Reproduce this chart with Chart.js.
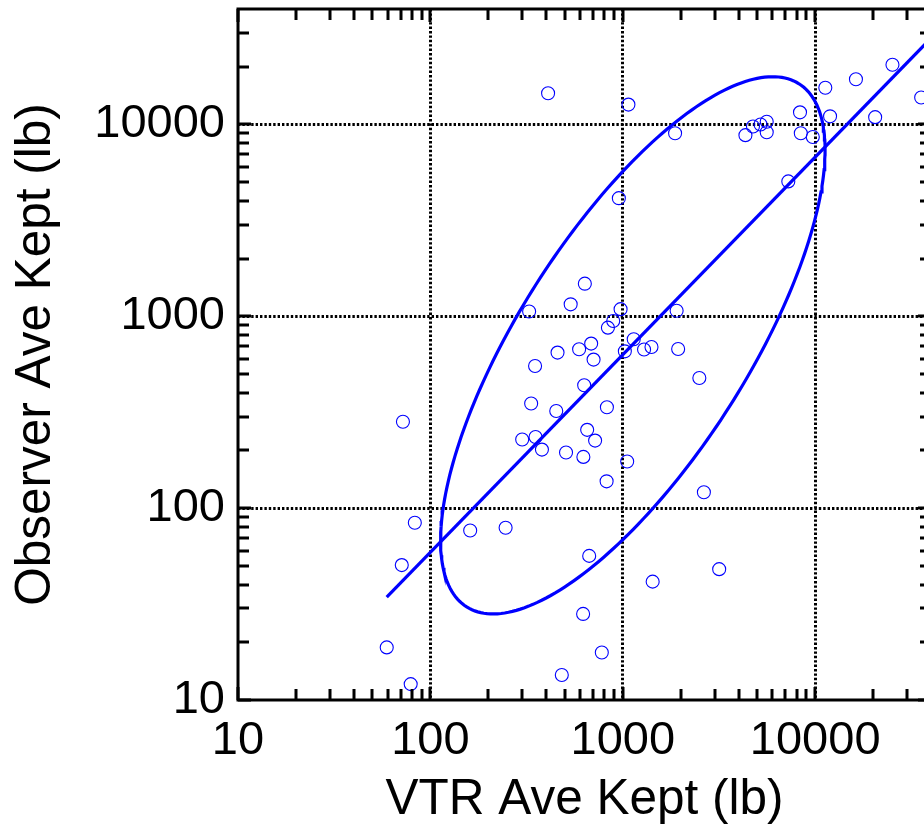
<!DOCTYPE html>
<html>
<head>
<meta charset="utf-8">
<script src="https://cdn.jsdelivr.net/npm/chart.js@4/dist/chart.umd.min.js"></script>
<style>
  html, body { margin: 0; padding: 0; background: #fff; overflow: hidden; }
  #wrap { position: relative; width: 940px; height: 831px; }
  canvas { display: block; }
</style>
</head>
<body>
<div id="wrap"><canvas id="chart" width="940" height="831" style="width:940px;height:831px"></canvas></div>
<script>
// Average kept weight per trip, VTR report vs. observer record (lb)
const vtrAveKept = [409, 1070, 954, 1870, 4340, 4750, 5200, 5600, 5600, 8340, 8420, 9720, 11290, 11950, 16290, 20500,
  25220, 35560, 7250, 635, 536, 326, 974, 892, 837, 1905, 1140, 1025, 1290, 1410, 1940, 458, 593, 685, 705, 350,
  630, 2500, 334, 451, 827, 72, 300, 352, 380, 653, 718, 507, 624, 1054, 824, 2640, 83, 161, 246, 71, 669, 1430,
  3170, 622, 778, 482, 59.3, 79];
const observerAveKept = [14550, 12700, 4130, 9010, 8800, 9760, 10000, 10330, 9110, 11570, 9000, 8610, 15530, 11030,
  17210, 10920, 20490, 13820, 5050, 1480, 1155, 1060, 1090, 945, 873, 1070, 760, 657, 671, 692, 676, 647, 673, 721,
  595, 551, 437, 477, 351, 321, 336, 282, 228, 235, 202, 256, 225, 195, 185, 175, 138, 121, 84, 76.5, 79, 50.5,
  56.4, 41.4, 48.1, 28.1, 17.7, 13.5, 18.8, 12.1];

// Fitted line (log-log regression) end points
const fitLineX = [59.3, 40000];
const fitLineY = [34.4, 28200];

// Confidence ellipse in log10 space: centre (lb), semi-axes (decades), tilt (degrees)
const ellipseCentre = [1128, 706];
const ellipseSemiAxes = [1.614, 0.595];
const ellipseTiltDeg = 57.65;

// Axis range and labelled ticks
const axisRange = [10, 40000];
const xTickValues = [10, 100, 1000, 10000];
const yTickValues = [10, 100, 1000, 10000];

const BLUE = '#0000ff';
const FONT = "'Liberation Sans', Arial, Helvetica, sans-serif";

function ellipsePoints() {
  const cx = Math.log10(ellipseCentre[0]), cy = Math.log10(ellipseCentre[1]);
  const a = ellipseSemiAxes[0], b = ellipseSemiAxes[1];
  const th = ellipseTiltDeg * Math.PI / 180;
  const pts = [];
  const n = 240;
  for (let i = 0; i <= n; i++) {
    const t = 2 * Math.PI * i / n;
    const lx = cx + a * Math.cos(th) * Math.cos(t) - b * Math.sin(th) * Math.sin(t);
    const ly = cy + a * Math.sin(th) * Math.cos(t) + b * Math.cos(th) * Math.sin(t);
    pts.push({ x: Math.pow(10, lx), y: Math.pow(10, ly) });
  }
  return pts;
}

// Frame on all four sides with inward major and minor ticks
const frameTicks = {
  id: 'frameTicks',
  afterDatasetsDraw(chart) {
    const { ctx, chartArea: ca, scales } = chart;
    const xs = scales.x, ys = scales.y;
    const minor = [];
    for (let d = 10; d < axisRange[1]; d *= 10) {
      for (let k = 2; k <= 9; k++) {
        const v = d * k;
        if (v < axisRange[1]) minor.push(v);
      }
    }
    ctx.save();
    ctx.strokeStyle = '#000';
    ctx.lineWidth = 3;
    ctx.lineCap = 'butt';
    ctx.beginPath();
    const drawX = (v, len) => {
      const px = Math.round(xs.getPixelForValue(v));
      ctx.moveTo(px, ca.bottom); ctx.lineTo(px, ca.bottom - len);
      ctx.moveTo(px, ca.top); ctx.lineTo(px, ca.top + len);
    };
    const drawY = (v, len) => {
      const py = Math.round(ys.getPixelForValue(v));
      ctx.moveTo(ca.left, py); ctx.lineTo(ca.left + len, py);
      ctx.moveTo(ca.right, py); ctx.lineTo(ca.right - len, py);
    };
    minor.forEach(v => { drawX(v, 11); drawY(v, 11); });
    xTickValues.forEach(v => drawX(v, 13));
    yTickValues.forEach(v => drawY(v, 13));
    ctx.stroke();
    ctx.lineWidth = 3;
    ctx.strokeRect(ca.left, ca.top, ca.right - ca.left, ca.bottom - ca.top);
    ctx.restore();
  }
};

const gridColor = (ctx) => (ctx.tick && ctx.tick.value === axisRange[0]) ? 'rgba(0,0,0,0)' : '#000';

new Chart(document.getElementById('chart'), {
  type: 'scatter',
  data: {
    datasets: [
      {
        label: 'Trips',
        data: vtrAveKept.map((x, i) => ({ x, y: observerAveKept[i] })),
        pointStyle: 'circle',
        pointRadius: 6.5,
        pointHoverRadius: 6.5,
        borderColor: BLUE,
        backgroundColor: 'rgba(0,0,0,0)',
        pointBorderWidth: 1.1,
        borderWidth: 1.1,
        order: 1
      },
      {
        type: 'line',
        label: 'Fit',
        data: fitLineX.map((x, i) => ({ x, y: fitLineY[i] })),
        borderColor: BLUE,
        borderWidth: 3.2,
        pointRadius: 0,
        fill: false,
        tension: 0,
        order: 2
      },
      {
        type: 'line',
        label: 'Ellipse',
        data: ellipsePoints(),
        borderColor: BLUE,
        borderWidth: 3.2,
        pointRadius: 0,
        fill: false,
        tension: 0,
        order: 2
      }
    ]
  },
  options: {
    responsive: false,
    animation: false,
    devicePixelRatio: 1,
    layout: { padding: { left: 0, right: 9, top: 9, bottom: 0 } },
    plugins: { legend: { display: false }, tooltip: { enabled: false } },
    scales: {
      x: {
        type: 'logarithmic',
        position: 'bottom',
        min: axisRange[0],
        max: axisRange[1],
        afterBuildTicks: (s) => { s.ticks = xTickValues.map(v => ({ value: v, major: true })); },
        afterFit: (s) => { s.height = 131; s.paddingLeft = 0; s.paddingRight = 0; },
        ticks: {
          callback: (v) => String(v),
          autoSkip: false,
          maxRotation: 0,
          padding: 13,
          color: '#000',
          font: { family: FONT, size: 47 }
        },
        grid: { drawTicks: false, color: gridColor, lineWidth: 3 },
        border: { display: false, dash: [2.4, 2] },
        title: {
          display: true,
          text: 'VTR Ave Kept (lb)',
          color: '#000',
          font: { family: FONT, size: 49.5, lineHeight: 1 },
          padding: { top: 0, bottom: 6 }
        }
      },
      y: {
        type: 'logarithmic',
        position: 'left',
        min: axisRange[0],
        max: axisRange[1],
        afterBuildTicks: (s) => { s.ticks = yTickValues.map(v => ({ value: v, major: true })); },
        afterFit: (s) => { s.width = 238; s.paddingTop = 0; s.paddingBottom = 0; },
        ticks: {
          callback: (v) => String(v),
          autoSkip: false,
          padding: 13,
          color: '#000',
          font: { family: FONT, size: 47 }
        },
        grid: { drawTicks: false, color: gridColor, lineWidth: 3 },
        border: { display: false, dash: [2.4, 2] },
        title: {
          display: true,
          text: 'Observer Ave Kept (lb)',
          color: '#000',
          font: { family: FONT, size: 49.5, lineHeight: 1 },
          padding: { top: 12, bottom: 0 }
        }
      }
    }
  },
  plugins: [frameTicks]
});
</script>
</body>
</html>
